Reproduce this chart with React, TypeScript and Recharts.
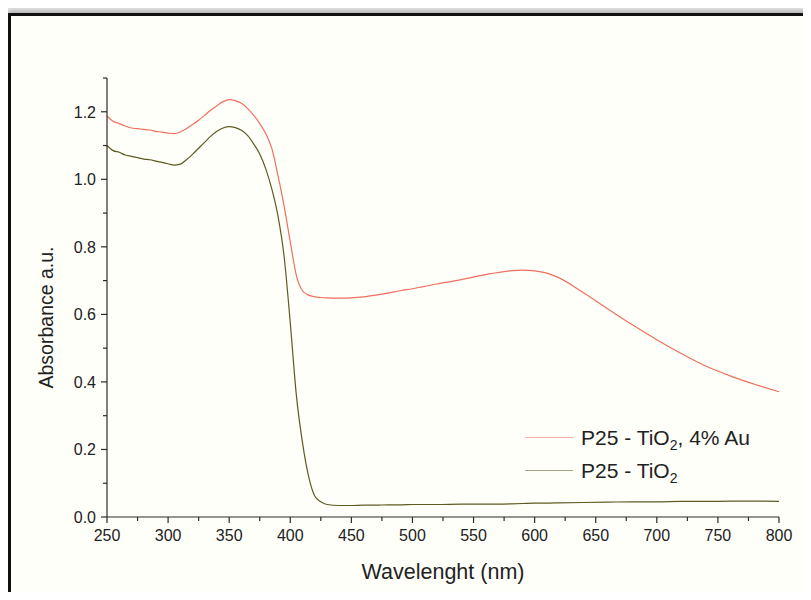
import { LineChart, Line, XAxis, YAxis, Legend, Label } from 'recharts'

const wavelength = [
  250, 255, 260, 265, 270, 275, 280, 285, 290, 295, 300, 305, 310, 315, 320, 325, 330, 335, 340, 345,
  350, 355, 360, 365, 370, 375, 380, 385, 390, 395, 400, 405, 410, 415, 420, 425, 430, 440, 450, 460,
  470, 480, 490, 500, 520, 540, 560, 580, 590, 600, 610, 620, 640, 660, 680, 700, 720, 740, 760, 780, 800,
]

const auSample = [
  1.188, 1.172, 1.165, 1.158, 1.152, 1.15, 1.148, 1.146, 1.142, 1.14, 1.137, 1.135, 1.14, 1.15, 1.162, 1.175, 1.19, 1.205, 1.218, 1.23,
  1.236, 1.233, 1.225, 1.21, 1.19, 1.165, 1.135, 1.09, 1.01, 0.92, 0.815, 0.715, 0.67, 0.657, 0.652, 0.65, 0.649, 0.648, 0.649, 0.652,
  0.657, 0.663, 0.67, 0.676, 0.69, 0.703, 0.718, 0.729, 0.731, 0.729, 0.722, 0.708, 0.664, 0.616, 0.569, 0.525, 0.484, 0.447, 0.418, 0.393, 0.371,
]

const tio2Sample = [
  1.1, 1.085, 1.08, 1.072, 1.068, 1.064, 1.06, 1.058, 1.054, 1.05, 1.046, 1.042, 1.045, 1.058, 1.074, 1.092, 1.11, 1.128, 1.142, 1.152,
  1.156, 1.153, 1.145, 1.13, 1.105, 1.075, 1.03, 0.97, 0.89, 0.77, 0.575, 0.36, 0.22, 0.12, 0.062, 0.045, 0.037, 0.034, 0.034, 0.035,
  0.035, 0.036, 0.036, 0.037, 0.037, 0.038, 0.038, 0.039, 0.04, 0.041, 0.041, 0.042, 0.043, 0.044, 0.045, 0.045, 0.046, 0.046, 0.047, 0.047, 0.046,
]

const xTicks = [250, 275, 300, 325, 350, 375, 400, 425, 450, 475, 500, 525, 550, 575, 600, 625, 650, 675, 700, 725, 750, 775, 800]
const yTicks = [0, 0.1, 0.2, 0.3, 0.4, 0.5, 0.6, 0.7, 0.8, 0.9, 1.0, 1.1, 1.2, 1.3]

const data = wavelength.map((nm, i) => ({ nm, au: auSample[i], tio2: tio2Sample[i] }))

const FONT = '"Liberation Sans", Arial, sans-serif'
const AXIS = '#2e2a22'
const TEXT = '#222'
const TICK_SIZE = 6
const TICK_MARGIN = 6

function XTick(props: any) {
  const { x, y, payload } = props
  const major = payload.value % 50 === 0
  const axisY = y - TICK_SIZE - TICK_MARGIN
  return (
    <g>
      <line x1={x} x2={x} y1={axisY} y2={axisY + (major ? 6 : 4)} stroke={AXIS} strokeWidth={1.2} />
      {major && (
        <text x={x} y={y} dy="0.72em" textAnchor="middle" fontSize={16} fill={TEXT} fontFamily={FONT}>
          {payload.value}
        </text>
      )}
    </g>
  )
}

function YTick(props: any) {
  const { x, y, payload } = props
  const major = Math.round(payload.value * 10) % 2 === 0
  const axisX = x + TICK_SIZE + 5
  return (
    <g>
      <line x1={axisX - (major ? 6 : 4)} x2={axisX} y1={y} y2={y} stroke={AXIS} strokeWidth={1.2} />
      {major && (
        <text x={x} y={y} dy="0.36em" textAnchor="end" fontSize={16} fill={TEXT} fontFamily={FONT}>
          {payload.value.toFixed(1)}
        </text>
      )}
    </g>
  )
}

function LegendBox({ payload }: any) {
  return (
    <div style={{ fontFamily: FONT, fontSize: 21, color: TEXT, lineHeight: '22px' }}>
      {(payload || []).map((p: any) => (
        <div key={p.value} style={{ display: 'flex', alignItems: 'center', height: 33 }}>
          <span style={{ display: 'inline-block', width: 48, height: 0, borderTop: `1.5px solid ${p.color}`, opacity: 0.55, marginRight: 8 }} />
          <span>
            {p.value === 'au' ? (
              <>P25 - TiO<sub style={{ fontSize: 14, lineHeight: 0 }}>2</sub>, 4% Au</>
            ) : (
              <>P25 - TiO<sub style={{ fontSize: 14, lineHeight: 0 }}>2</sub></>
            )}
          </span>
        </div>
      ))}
    </div>
  )
}

function YTitle({ viewBox }: any) {
  const cx = viewBox.x + 9
  const cy = viewBox.y + viewBox.height / 2 + 20
  return (
    <text x={cx} y={cy} transform={`rotate(-90, ${cx}, ${cy})`} textAnchor="middle" dominantBaseline="central" fontSize={19.5} fill={TEXT} fontFamily={FONT}>
      Absorbance a.u.
    </text>
  )
}

export default function App() {
  return (
    <div style={{ position: 'relative', width: 811, height: 600, margin: -8, overflow: 'hidden', background: 'linear-gradient(#f2f2f2, #d8d8d8)' }}>
      <div
        style={{
          position: 'absolute',
          left: 8,
          top: 13,
          width: 799,
          height: 577,
          background: '#fffffa',
          borderTop: '3px solid #111',
          borderLeft: '3px solid #111',
          borderRight: '1px solid #bbb',
          borderBottom: '1px solid #bbb',
          boxShadow: '0 0 7px 2px rgba(0,0,0,0.35)',
        }}
      />
      <div style={{ position: 'absolute', left: 0, top: 0 }}>
        <LineChart width={811} height={600} data={data} margin={{ top: 78, right: 32, left: 37, bottom: 13 }}>
          <XAxis
            dataKey="nm"
            type="number"
            domain={[250, 800]}
            ticks={xTicks}
            interval={0}
            height={70}
            tickSize={TICK_SIZE}
            tickMargin={TICK_MARGIN}
            tickLine={false}
            tick={XTick}
            stroke={AXIS}
            strokeWidth={1.2}
          >
            <Label value="Wavelenght (nm)" position="insideBottom" offset={8} fontSize={21.5} fill={TEXT} fontFamily={FONT} />
          </XAxis>
          <YAxis
            type="number"
            domain={[0, 1.3]}
            ticks={yTicks}
            interval={0}
            width={70}
            tickSize={TICK_SIZE}
            tickMargin={5}
            tickLine={false}
            tick={YTick}
            stroke={AXIS}
            strokeWidth={1.2}
          >
            <Label content={YTitle} />
          </YAxis>
          <Legend
            content={LegendBox}
            layout="vertical"
            align="center"
            verticalAlign="middle"
            wrapperStyle={{ position: 'absolute', left: 525, top: 421, width: 270 }}
          />
          <Line type="monotone" dataKey="au" name="au" stroke="#ef6f60" strokeWidth={1.2} dot={false} isAnimationActive={false} />
          <Line type="monotone" dataKey="tio2" name="tio2" stroke="#5f5a24" strokeWidth={1.2} dot={false} isAnimationActive={false} />
        </LineChart>
      </div>
    </div>
  )
}
